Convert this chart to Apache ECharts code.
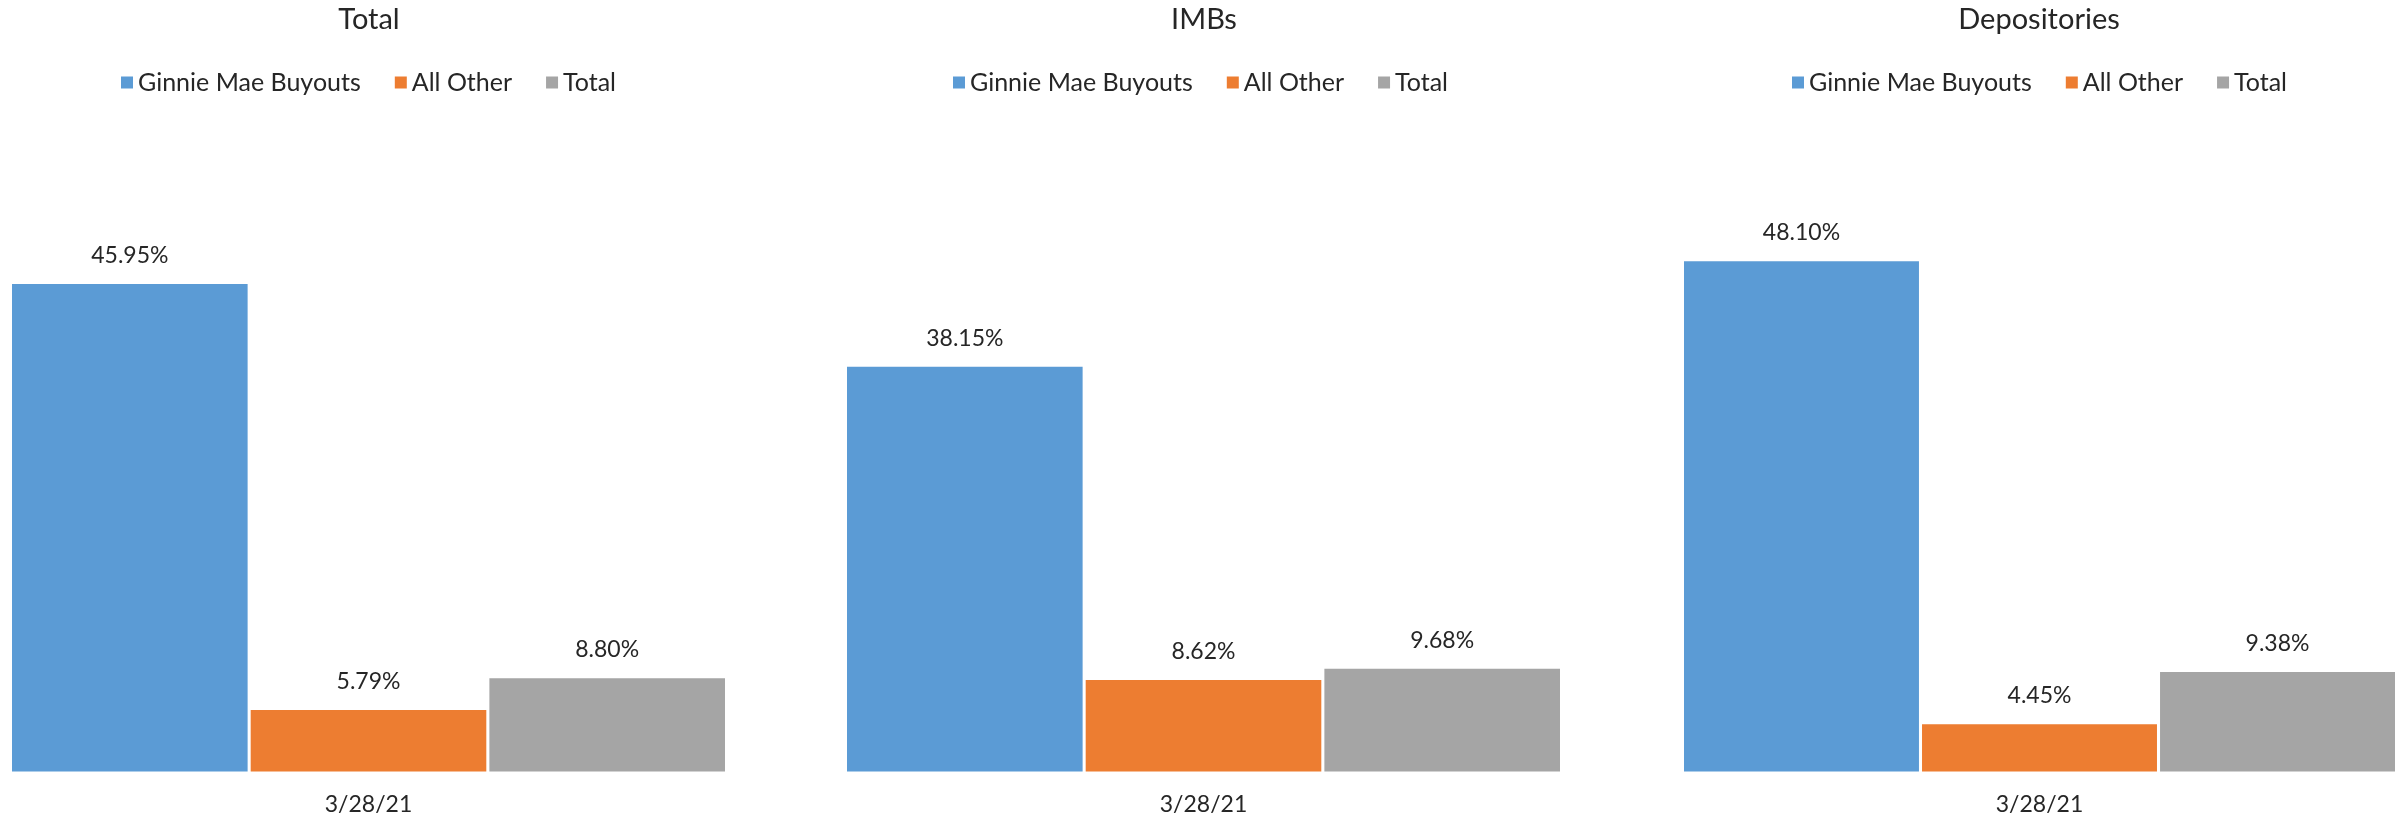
<!DOCTYPE html>
<html>
<head>
<meta charset="utf-8">
<script src="https://cdn.jsdelivr.net/npm/echarts@6/dist/echarts.min.js"></script>
<style>
html,body{margin:0;padding:0;background:#fff;}
#chart{width:2407px;height:819px;}
</style>
</head>
<body>
<div id="chart"></div>
<script>
// ---- data ----
const panelTitles = ['Total', 'IMBs', 'Depositories'];
const categories = ['3/28/21'];
const seriesNames = ['Ginnie Mae Buyouts', 'All Other', 'Total'];
const ginnieMaeBuyouts = [45.95, 38.15, 48.10];
const allOther = [5.79, 8.62, 4.45];
const totalValues = [8.80, 9.68, 9.38];

// ---- layout / style ----
const FONT = 'Lato';
const TEXT = '#262626';
const colors = ['#5B9BD5', '#ED7D31', '#A5A5A5'];
const gridLefts = [12, 847, 1684];
const gridWidths = [713, 713, 711];
const panelCenters = [369, 1204, 2039];
const legendLefts = [121, 953, 1792];

const valuesBySeries = [ginnieMaeBuyouts, allOther, totalValues];

const option = {
  animation: false,
  backgroundColor: '#ffffff',
  color: colors,
  title: panelTitles.map((t, i) => ({
    text: t,
    left: panelCenters[i],
    textAlign: 'center',
    top: 5,
    padding: 0,
    textStyle: { fontFamily: FONT, fontSize: 29, fontWeight: 'normal', color: TEXT }
  })),
  legend: panelTitles.map((t, i) => ({
    data: seriesNames,
    left: legendLefts[i],
    top: 70,
    padding: 0,
    icon: 'rect',
    itemWidth: 12,
    itemHeight: 12,
    itemGap: 34,
    selectedMode: false,
    textStyle: { fontFamily: FONT, fontSize: 25, color: TEXT }
  })),
  grid: panelTitles.map((t, i) => ({
    left: gridLefts[i],
    width: gridWidths[i],
    top: 241,
    bottom: 47.5,
    containLabel: false
  })),
  xAxis: panelTitles.map((t, i) => ({
    type: 'category',
    gridIndex: i,
    data: categories,
    axisLine: { show: false },
    axisTick: { show: false },
    axisLabel: { fontFamily: FONT, fontSize: 23, color: TEXT, margin: 22 }
  })),
  yAxis: panelTitles.map((t, i) => ({
    type: 'value',
    gridIndex: i,
    min: 0,
    max: 50,
    interval: 10,
    show: false,
    splitLine: { show: false }
  })),
  series: []
};

panelTitles.forEach((t, p) => {
  seriesNames.forEach((name, s) => {
    option.series.push({
      name: name,
      type: 'bar',
      xAxisIndex: p,
      yAxisIndex: p,
      barCategoryGap: '0%',
      barGap: '1.3%',
      itemStyle: { color: colors[s] },
      label: {
        show: true,
        position: 'top',
        distance: 17,
        fontFamily: FONT,
        fontSize: 23,
        color: TEXT,
        formatter: (d) => d.value.toFixed(2) + '%'
      },
      data: [valuesBySeries[s][p]]
    });
  });
});

const chart = echarts.init(document.getElementById('chart'), null, { renderer: 'canvas' });
chart.setOption(option);
</script>
</body>
</html>
